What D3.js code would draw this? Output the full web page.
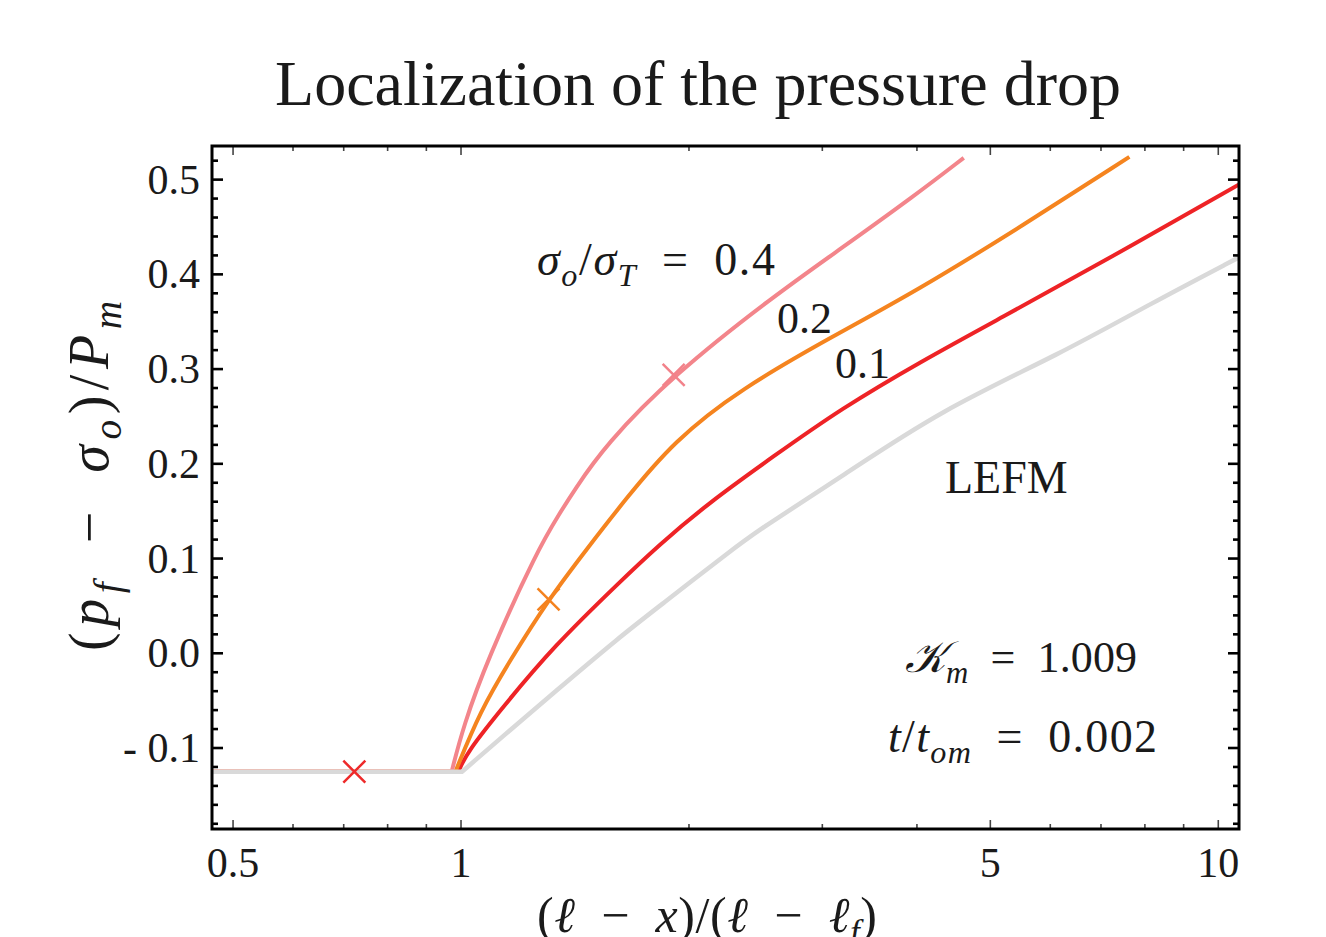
<!DOCTYPE html>
<html>
<head>
<meta charset="utf-8">
<script src="https://cdn.jsdelivr.net/npm/d3@7"></script>
<style>
  body { margin: 0; background: #fff; }
  svg { display: block; }
  text { font-family: "Liberation Serif", "DejaVu Serif", serif; fill: #1a1a1a; }
</style>
</head>
<body>
<svg id="chart" width="1326" height="937"></svg>
<script>
// ---- data ----
const xTickValues = [0.5, 1, 5, 10];
const xTickLabels = ["0.5", "1", "5", "10"];
const xMinorTicks = [0.5, 0.6, 0.7, 0.8, 0.9, 1, 2, 3, 4, 5, 6, 7, 8, 9, 10];
const yTickValues = [-0.1, 0.0, 0.1, 0.2, 0.3, 0.4, 0.5];
const yTickLabels = ["- 0.1", "0.0", "0.1", "0.2", "0.3", "0.4", "0.5"];

// sigma_o/sigma_T = 0.4
const pinkX = [0.469, 0.972, 1.007, 1.083, 1.261, 1.353, 1.408, 1.551, 1.909, 2.587, 3.173, 3.986, 4.612];
const pinkY = [-0.125, -0.125, -0.077, -0.007, 0.109, 0.149, 0.171, 0.22, 0.294, 0.377, 0.427, 0.484, 0.523];
// 0.2
const orangeX = [0.469, 0.983, 1.06, 1.162, 1.305, 1.469, 1.639, 1.909, 2.339, 3.103, 3.986, 5.531, 7.631];
const orangeY = [-0.125, -0.125, -0.061, -0.007, 0.057, 0.111, 0.16, 0.224, 0.279, 0.335, 0.382, 0.452, 0.524];
// 0.1
const redX = [0.469, 0.992, 1.019, 1.138, 1.324, 1.624, 1.818, 2.117, 2.587, 3.173, 4.047, 5.162, 6.999, 10.653];
const redY = [-0.125, -0.125, -0.104, -0.056, 0.007, 0.076, 0.113, 0.158, 0.208, 0.258, 0.308, 0.354, 0.412, 0.495];
// LEFM
const grayX = [0.469, 1.003, 1.138, 1.324, 1.624, 1.83, 2.286, 2.481, 3.173, 4.308, 6.185, 8.135, 10.653];
const grayY = [-0.125, -0.125, -0.087, -0.042, 0.018, 0.05, 0.11, 0.131, 0.186, 0.257, 0.316, 0.369, 0.418];

const crossX = [0.723, 1.305, 1.909];
const crossY = [-0.125, 0.057, 0.294];
const crossColor = ["#ee2a2a", "#f4821f", "#f2828a"];

const series = [
  { xs: redX, ys: redY, color: "#ee2326", w: 4 },
  { xs: orangeX, ys: orangeY, color: "#f5841f", w: 4 },
  { xs: pinkX, ys: pinkY, color: "#f3858b", w: 4 },
  { xs: grayX, ys: grayY, color: "#d9d9d9", w: 4.5 }
];

const svg = d3.select("#chart");
const fL = 212, fR = 1239, fT = 146, fB = 829;

const x = d3.scaleLog().domain([0.469, 10.65]).range([fL, fR]);
const y = d3.scaleLinear().domain([-0.1855, 0.5355]).range([fB, fT]);

svg.append("clipPath").attr("id", "clip")
  .append("rect").attr("x", fL).attr("y", fT)
  .attr("width", fR - fL).attr("height", fB - fT);

// flat part is straight, the rising part is a smooth curve; joined into one path
const curve = d3.line()
  .x(d => x(d[0]))
  .y(d => y(d[1]))
  .curve(d3.curveBasis);

const plot = svg.append("g").attr("clip-path", "url(#clip)");
series.forEach(s => {
  const pts = s.xs.map((v, i) => [v, s.ys[i]]);
  const rise = curve(pts.slice(1)).replace(/^M/, "L");
  plot.append("path")
    .attr("d", `M${x(pts[0][0])},${y(pts[0][1])}` + rise)
    .attr("fill", "none")
    .attr("stroke", s.color)
    .attr("stroke-width", s.w)
    .attr("stroke-linejoin", "miter");
});

// crosses
crossX.forEach((cx, i) => {
  const px = x(cx), py = y(crossY[i]), r = 11;
  plot.append("path")
    .attr("d", `M${px - r},${py - r}L${px + r},${py + r}M${px - r},${py + r}L${px + r},${py - r}`)
    .attr("stroke", crossColor[i])
    .attr("stroke-width", 2.5)
    .attr("fill", "none");
});

// frame ticks
const yMinor = d3.range(-18, 54, 2).map(v => v / 100);
const ticks = svg.append("g");
yMinor.forEach(v => {
  const major = Math.abs(Math.round(v * 10) - v * 10) < 1e-6;
  const len = major ? 11 : 6;
  ticks.append("line").attr("x1", fL).attr("x2", fL + len)
    .attr("y1", y(v)).attr("y2", y(v)).attr("stroke", "#000").attr("stroke-width", 2.6);
  ticks.append("line").attr("x1", fR).attr("x2", fR - len)
    .attr("y1", y(v)).attr("y2", y(v)).attr("stroke", "#000").attr("stroke-width", 2.6);
});
xMinorTicks.forEach(v => {
  const major = xTickValues.includes(v);
  const len = major ? 9 : 5;
  ticks.append("line").attr("x1", x(v)).attr("x2", x(v))
    .attr("y1", fB).attr("y2", fB - len).attr("stroke", "#444").attr("stroke-width", 1.6);
  ticks.append("line").attr("x1", x(v)).attr("x2", x(v))
    .attr("y1", fT).attr("y2", fT + len).attr("stroke", "#444").attr("stroke-width", 1.6);
});

svg.append("rect")
  .attr("x", fL).attr("y", fT)
  .attr("width", fR - fL).attr("height", fB - fT)
  .attr("fill", "none").attr("stroke", "#000").attr("stroke-width", 3);

// tick labels
yTickValues.forEach((v, i) => {
  svg.append("text").attr("x", 200).attr("y", y(v) + 14)
    .attr("text-anchor", "end").attr("font-size", 42).text(yTickLabels[i]);
});
xTickValues.forEach((v, i) => {
  svg.append("text").attr("x", x(v)).attr("y", 877)
    .attr("text-anchor", "middle").attr("font-size", 42).text(xTickLabels[i]);
});

// title
svg.append("text").attr("x", 698).attr("y", 105)
  .attr("text-anchor", "middle").attr("font-size", 64)
  .text("Localization of the pressure drop");

// math-ish text: parts are [text, italic, subscript]
function mathText(g, px, py, parts, size, anchor, width) {
  const t = g.append("text").attr("x", px).attr("y", py)
    .attr("font-size", size).attr("text-anchor", anchor || "start");
  if (width) t.attr("textLength", width).attr("lengthAdjust", "spacing");
  let shift = 0;
  parts.forEach(p => {
    const sub = p[2];
    const target = sub ? size * 0.24 : 0;
    t.append("tspan")
      .attr("dy", target - shift)
      .attr("font-size", sub ? size * 0.7 : size)
      .attr("font-style", p[1] ? "italic" : "normal")
      .text(p[0]);
    shift = target;
  });
  return t;
}

const sp = "\u2002";
mathText(svg, 537, 275, [["σ", 1], ["o", 1, 1], ["/", 0], ["σ", 1], ["T", 1, 1], [sp + "=" + sp + "0.4", 0]], 46, "start", 238);
svg.append("text").attr("x", 777).attr("y", 333).attr("font-size", 44).text("0.2");
svg.append("text").attr("x", 835).attr("y", 378).attr("font-size", 44).text("0.1");
svg.append("text").attr("x", 945).attr("y", 493).attr("font-size", 46).text("LEFM");
mathText(svg, 905, 672, [["𝒦", 1], ["m", 1, 1], [sp + "=" + sp + "1.009", 0]], 44, "start", 232);
mathText(svg, 888, 752, [["t", 1], ["/", 0], ["t", 1], ["om", 1, 1], [sp + "=" + sp + "0.002", 0]], 46, "start", 269);

// axis labels
mathText(svg, 707, 932, [["(", 0], ["ℓ", 1], [sp + "−" + sp, 0], ["x", 1], [")/(", 0], ["ℓ", 1], [sp + "−" + sp, 0], ["ℓ", 1], ["f", 1, 1], [")", 0]], 50, "middle", 340);
const yl = svg.append("g").attr("transform", "translate(108,476) rotate(-90)");
mathText(yl, 0, 0, [["(", 0], ["p", 1], ["f", 1, 1], [sp + "−" + sp, 0], ["σ", 1], ["o", 1, 1], [")/", 0], ["P", 1], ["m", 1, 1]], 56, "middle", 350);
</script>
</body>
</html>
